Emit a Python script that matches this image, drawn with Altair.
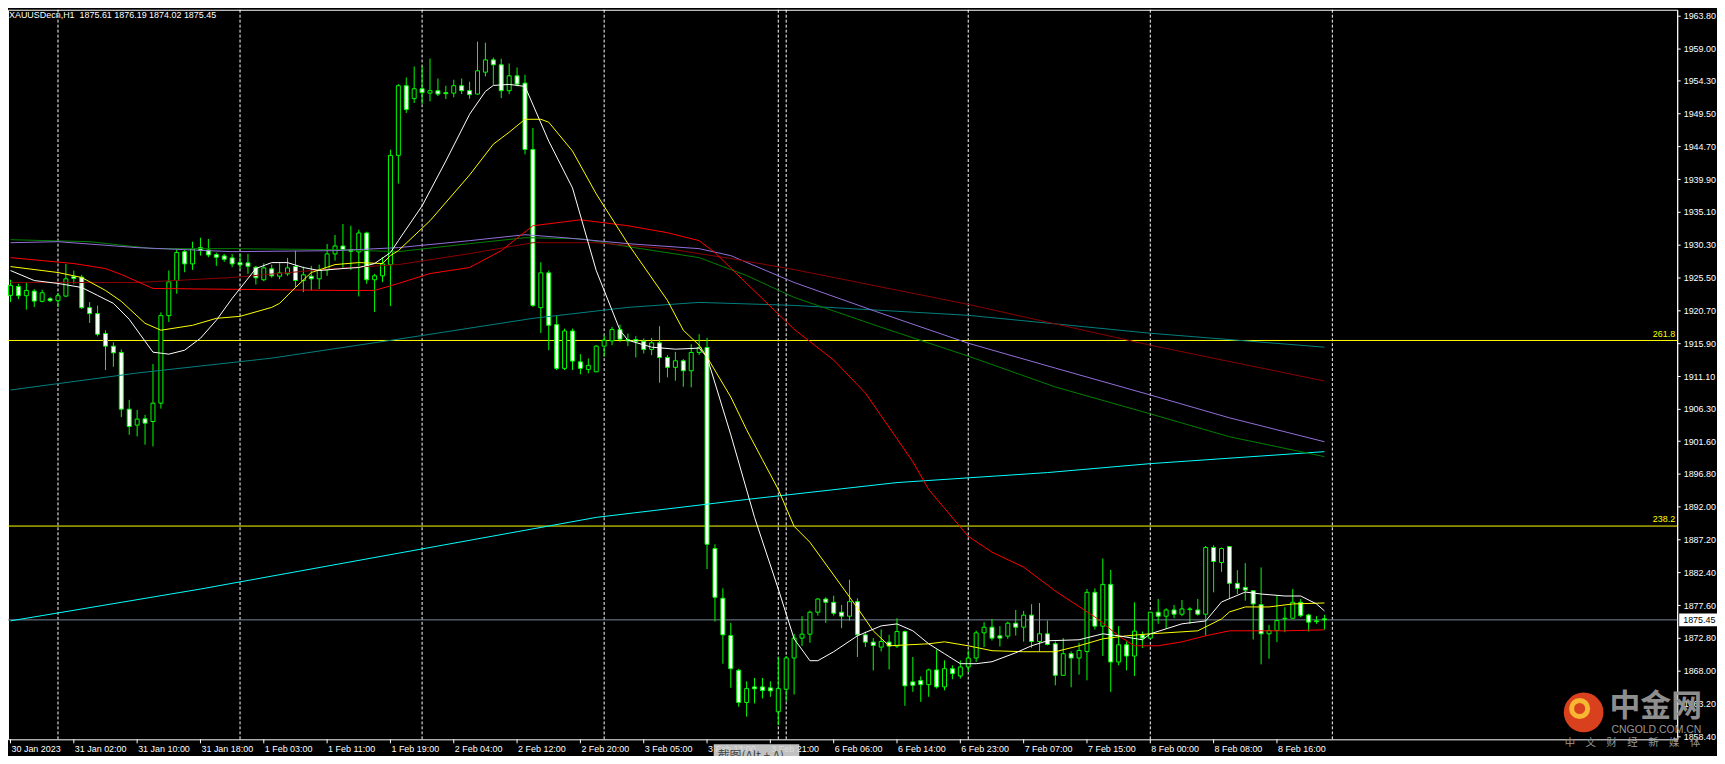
import altair as alt
import pandas as pd

# ---------------- data ----------------
opens = [1922.90,1924.21,1922.86,1923.53,1922.03,1922.42,1922.13,1922.80,1925.67,1925.56,
         1921.11,1920.24,1917.32,1915.48,1914.56,1906.26,1903.93,1904.85,1904.46,1907.14,
         1919.94,1925.08,1929.30,1927.51,1929.89,1929.55,1928.87,1928.68,1928.39,1927.70,
         1927.66,1927.02,1925.19,1926.79,1925.71,1926.06,1927.12,1925.08,1925.71,1925.33,
         1926.64,1928.97,1930.13,1929.60,1929.26,1932.03,1925.19,1925.77,1927.41,1943.38,
         1953.57,1951.68,1953.13,1952.49,1952.84,1952.55,1952.49,1953.57,1952.84,1952.35,
         1955.55,1957.35,1956.63,1952.84,1955.02,1953.95,1944.25,1921.11,1926.20,1918.63,
         1912.23,1917.70,1913.19,1912.08,1911.73,1915.48,1916.25,1917.91,1916.45,1916.45,
         1916.20,1915.00,1915.96,1913.83,1912.38,1913.34,1911.88,1914.56,1915.29,1885.88,
         1878.61,1873.16,1868.07,1863.37,1865.65,1865.65,1865.51,1862.01,1865.30,1869.87,
         1872.78,1873.36,1876.57,1878.50,1878.02,1876.57,1875.99,1878.11,1873.26,1872.20,
         1871.47,1872.20,1871.62,1873.74,1866.38,1866.57,1865.98,1868.13,1865.65,1868.31,
         1867.25,1868.56,1869.87,1873.55,1874.38,1873.12,1873.07,1874.96,1874.38,1876.14,
         1872.29,1873.41,1871.95,1867.34,1870.50,1869.87,1870.83,1879.48,1874.53,1880.64,
         1869.29,1871.81,1870.16,1873.26,1872.78,1876.57,1875.99,1876.90,1876.28,1876.95,
         1876.90,1876.28,1886.03,1883.85,1886.17,1880.79,1880.20,1879.71,1877.67,1873.41,
         1873.89,1875.59,1875.69,1878.02,1876.17,1875.30,1875.61]
highs = [1925.19,1924.60,1924.79,1923.82,1923.73,1922.65,1923.29,1927.51,1926.54,1925.91,
         1921.92,1921.40,1917.80,1916.06,1915.00,1907.62,1906.16,1905.43,1912.86,1920.43,
         1926.54,1929.64,1929.55,1930.76,1931.34,1931.15,1929.16,1928.97,1928.97,1929.01,
         1928.97,1927.22,1927.60,1927.41,1927.60,1928.39,1929.45,1927.12,1927.22,1927.41,
         1930.43,1931.73,1933.34,1933.09,1932.51,1932.22,1926.06,1928.48,1944.20,1953.80,
         1954.78,1956.38,1956.48,1957.54,1954.63,1953.57,1954.44,1954.63,1954.15,1960.02,
         1959.87,1957.69,1957.50,1956.82,1956.23,1955.17,1947.40,1927.75,1926.54,1919.99,
         1918.05,1918.05,1914.31,1913.68,1915.62,1917.08,1918.29,1918.63,1917.33,1916.93,
         1916.60,1916.69,1918.39,1914.17,1914.65,1913.58,1915.77,1917.22,1916.69,1886.51,
         1880.06,1875.01,1868.31,1866.47,1866.96,1866.96,1866.47,1870.02,1870.16,1873.41,
         1875.99,1876.80,1878.61,1878.75,1878.99,1877.63,1881.32,1878.61,1873.74,1872.78,
         1874.04,1873.26,1875.70,1873.89,1870.02,1867.19,1868.31,1871.12,1869.53,1868.80,
         1869.53,1870.98,1873.89,1875.11,1875.59,1874.53,1875.20,1876.90,1876.76,1877.74,
         1877.92,1875.35,1872.29,1872.78,1870.83,1872.10,1879.96,1880.06,1884.43,1882.77,
         1874.53,1872.29,1878.02,1873.74,1876.57,1878.50,1877.15,1877.63,1878.36,1877.30,
         1878.50,1886.26,1886.36,1886.03,1886.26,1882.72,1883.75,1879.71,1883.12,1874.72,
         1878.99,1877.30,1879.96,1878.50,1876.32,1875.99,1876.19]
lows = [1921.92,1922.36,1920.82,1921.20,1921.88,1921.92,1921.20,1922.65,1924.60,1920.91,
        1918.87,1916.93,1911.98,1912.46,1905.10,1902.52,1902.28,1901.07,1900.82,1906.35,
        1919.01,1923.15,1926.29,1926.64,1928.72,1928.48,1927.22,1927.80,1927.02,1926.73,
        1926.06,1924.50,1924.98,1925.48,1925.27,1925.77,1924.11,1923.38,1923.63,1923.82,
        1925.77,1927.99,1926.79,1926.64,1922.75,1924.60,1920.47,1924.84,1921.34,1939.25,
        1949.58,1951.04,1950.89,1951.28,1952.06,1951.62,1951.87,1952.35,1951.68,1952.26,
        1954.92,1953.71,1951.76,1952.35,1953.47,1943.53,1921.20,1917.41,1914.89,1911.98,
        1911.98,1911.98,1911.36,1911.50,1911.73,1913.92,1915.62,1916.10,1915.48,1913.83,
        1914.41,1914.17,1910.13,1910.92,1910.43,1909.55,1909.46,1914.17,1882.87,1875.20,
        1869.04,1865.51,1862.74,1861.29,1863.22,1863.95,1864.20,1860.06,1863.55,1864.53,
        1871.62,1872.10,1876.07,1875.01,1876.07,1874.24,1875.35,1870.02,1871.47,1868.06,
        1870.83,1868.21,1871.33,1862.88,1864.92,1863.46,1864.20,1865.40,1865.15,1866.76,
        1866.86,1867.83,1869.29,1871.47,1872.43,1871.56,1872.68,1873.16,1872.25,1871.37,
        1870.86,1871.71,1865.88,1867.34,1865.59,1867.44,1866.61,1874.04,1870.16,1864.92,
        1868.80,1868.06,1867.25,1871.33,1872.78,1874.87,1874.14,1875.70,1875.99,1874.87,
        1876.07,1873.16,1879.48,1882.48,1878.50,1879.23,1878.26,1872.58,1868.94,1869.77,
        1872.20,1873.65,1875.59,1875.84,1873.74,1874.87,1874.02]
closes = [1924.36,1922.86,1923.63,1922.07,1923.29,1922.13,1922.86,1925.33,1925.38,1921.11,
          1920.24,1917.22,1915.48,1914.50,1906.26,1903.73,1904.81,1904.22,1907.14,1919.94,
          1924.89,1929.16,1927.51,1929.70,1929.49,1928.82,1928.48,1928.18,1927.51,1927.37,
          1927.16,1925.48,1926.93,1925.77,1926.20,1926.93,1925.08,1925.91,1925.33,1926.64,
          1928.97,1930.13,1929.55,1929.35,1932.03,1925.19,1925.77,1927.51,1943.38,1953.57,
          1950.08,1953.13,1952.55,1952.84,1952.35,1952.41,1953.57,1952.84,1952.26,1955.75,
          1957.35,1956.63,1952.84,1955.02,1953.80,1944.25,1921.44,1926.20,1918.53,1912.23,
          1917.70,1913.29,1912.23,1912.67,1915.48,1916.35,1917.91,1916.50,1916.25,1916.16,
          1915.00,1915.96,1913.83,1912.38,1913.34,1911.88,1914.56,1915.29,1886.51,1878.75,
          1873.26,1868.31,1863.37,1865.40,1865.36,1865.11,1865.07,1865.40,1869.87,1872.78,
          1873.36,1876.57,1878.50,1878.02,1876.42,1875.99,1878.11,1873.26,1872.20,1871.71,
          1872.29,1871.62,1873.74,1865.80,1865.89,1865.98,1868.13,1865.65,1868.31,1867.59,
          1868.56,1869.87,1873.55,1874.38,1872.78,1872.78,1874.96,1874.38,1876.14,1872.29,
          1873.41,1871.85,1867.34,1870.50,1869.87,1870.98,1879.48,1874.53,1880.64,1869.29,
          1871.81,1870.16,1873.80,1872.78,1876.57,1875.99,1876.90,1876.28,1877.05,1877.05,
          1876.28,1886.03,1883.99,1885.88,1880.79,1880.06,1879.81,1877.78,1873.41,1873.89,
          1875.35,1875.69,1878.02,1876.07,1875.11,1875.20,1875.45]

x_tick_bars = [0, 8, 16, 24, 32, 40, 48, 56, 64, 72, 80, 88, 96, 104, 112, 120, 128, 136, 144, 152, 160]
x_tick_labels = ["30 Jan 2023", "31 Jan 02:00", "31 Jan 10:00", "31 Jan 18:00", "1 Feb 03:00",
                 "1 Feb 11:00", "1 Feb 19:00", "2 Feb 04:00", "2 Feb 12:00", "2 Feb 20:00",
                 "3 Feb 05:00", "3 Feb 13:00", "3 Feb 21:00", "6 Feb 06:00", "6 Feb 14:00",
                 "6 Feb 23:00", "7 Feb 07:00", "7 Feb 15:00", "8 Feb 00:00", "8 Feb 08:00",
                 "8 Feb 16:00"]
y_tick_values = [1963.80, 1959.00, 1954.30, 1949.50, 1944.70, 1939.90, 1935.10, 1930.30,
                 1925.50, 1920.70, 1915.90, 1911.10, 1906.30, 1901.60, 1896.80, 1892.00,
                 1887.20, 1882.40, 1877.60, 1872.80, 1868.00, 1863.20, 1858.40]
separator_bars = [6, 29, 52, 75, 97, 98, 121, 144, 167]
fib_levels = [1916.31, 1889.17]
fib_labels = ["261.8", "238.2"]
last_price = 1875.45
title_text = "XAUUSDecn,H1\u00a0\u00a01875.61 1876.19 1874.02 1875.45"

white_i = [0,3,6,9,11,13,15,17,18,20,22,24,26,28,31,33,35,37,39,42,44,46,48,49,52,55,58,60,61,63,
           65,68,71,74,77,78,81,84,87,88,91,94,97,99,101,102,104,107,110,112,114,116,118,120,122,
           124,127,129,131,135,138,140,143,144,148,151,153,156,158,161,163,165,166]
white_v = [1926.54,1925.08,1924.65,1924.06,1922.90,1921.74,1919.41,1916.20,1914.60,1914.31,
           1914.89,1916.64,1919.26,1922.46,1926.83,1927.70,1927.70,1926.98,1926.54,1926.83,
           1926.98,1927.56,1929.16,1930.91,1936.00,1942.55,1949.39,1952.74,1953.61,1953.76,
           1953.47,1945.46,1938.62,1926.54,1917.81,1916.35,1915.33,1915.04,1915.19,1913.88,
           1902.52,1890.44,1879.96,1872.68,1869.48,1869.48,1870.79,1873.12,1874.57,1874.86,
           1873.85,1871.95,1870.50,1869.04,1869.04,1869.33,1870.64,1871.66,1872.39,1872.54,
           1873.41,1873.12,1872.54,1873.41,1874.87,1875.30,1878.07,1879.52,1879.23,1878.94,
           1878.94,1877.78,1876.76]
yellow_i = [0,6,9,12,14,17,19,23,26,29,33,34,36,38,41,44,47,48,49,53,58,61,63,65,67,68,71,74,78,83,
            85,87,88,91,93,95,97,99,101,104,107,109,111,116,118,121,124,128,132,135,138,141,144,
            148,150,153,154,156,159,162,166]
yellow_v = [1927.12,1926.25,1925.52,1923.63,1922.03,1918.82,1917.81,1918.53,1919.55,1919.84,
            1921.15,1921.74,1924.06,1926.25,1927.41,1927.70,1927.56,1928.72,1929.45,1933.82,
            1940.51,1945.02,1946.77,1948.66,1948.66,1948.23,1944.01,1937.75,1930.47,1922.17,
            1917.81,1915.62,1913.88,1908.05,1903.25,1898.88,1894.52,1889.13,1886.80,1882.00,
            1877.19,1873.84,1871.66,1871.95,1872.24,1871.66,1870.94,1870.79,1870.79,1871.66,
            1872.68,1873.12,1873.41,1873.70,1873.85,1875.59,1876.61,1877.34,1877.34,1877.78,
            1877.92]
red_i = [0,8,12,14,18,30,41,46,49,53,58,62,66,72,78,83,87,89,93,99,104,108,114,116,121,124,128,
         132,137,140,142,145,148,151,154,161,166]
red_v = [1928.43,1927.56,1926.83,1925.96,1923.92,1923.77,1923.63,1923.63,1924.65,1926.10,
         1926.98,1929.45,1933.09,1933.96,1933.09,1932.07,1930.91,1929.16,1924.65,1917.95,
         1913.44,1908.63,1898.59,1894.52,1887.67,1885.35,1883.16,1879.67,1875.88,1873.12,
         1871.66,1871.66,1872.24,1873.12,1873.85,1873.85,1873.99]
maroon_i = [0,16,28,41,49,58,66,74,83,91,99,121,144,166]
maroon_v = [1924.79,1924.79,1925.52,1926.83,1927.41,1929.01,1930.61,1930.61,1929.74,1928.29,
            1926.68,1921.59,1915.62,1910.38]
purple_i = [0,6,16,28,41,49,58,65,70,78,87,91,99,110,121,132,144,154,166]
purple_v = [1930.61,1930.76,1929.89,1929.30,1929.45,1929.89,1930.91,1931.78,1931.34,1930.47,
            1929.74,1928.72,1924.79,1920.28,1915.91,1912.27,1908.34,1905.00,1901.50]
green_i = [0,10,18,28,41,49,58,65,72,78,87,93,99,110,121,132,144,154,166]
green_v = [1931.05,1930.76,1929.74,1929.74,1929.60,1929.30,1930.47,1931.34,1931.20,1930.03,
           1928.43,1925.81,1922.61,1918.24,1914.02,1909.51,1905.58,1902.23,1899.32]
teal_i = [0,16,33,49,66,78,87,99,121,144,166]
teal_v = [1909.07,1911.55,1913.73,1916.50,1919.55,1921.15,1921.88,1921.44,1919.99,1917.37,1915.33]
cyan_i = [0,24,49,74,93,112,131,144,166]
cyan_v = [1875.30,1879.96,1885.20,1890.44,1893.06,1895.53,1896.99,1898.30,1900.05]

# ---------------- layout ----------------
W, H = 1677, 733
FONT = "Liberation Sans"
FS = 9
CJK = "Noto Sans CJK SC"
LIME = "#00FF00"

xs = alt.Scale(domain=[0.3125, 209.9375], nice=False, zero=False)
ys = alt.Scale(domain=[1857.98, 1964.68], nice=False, zero=False)
YAX = alt.Axis(orient="right", values=y_tick_values, format=".2f", title=None, grid=False,
               labelColor="white", labelFont=FONT, labelFontSize=FS, labelPadding=3,
               tickColor="white", tickSize=3, domainColor="white", labelOverlap=False,
               labelFlush=False, labelBound=False)


def X(f):
    return alt.X(f + ":Q", scale=xs, axis=None)


def Y(f):
    return alt.Y(f + ":Q", scale=ys, axis=YAX)


n = len(opens)
candles = pd.DataFrame({"i": list(range(n)), "o": opens, "h": highs, "l": lows, "c": closes})
candles["top"] = candles[["o", "c"]].max(axis=1)
candles["bot"] = candles[["o", "c"]].min(axis=1)
candles["fillc"] = ["black" if c > o else "white" for o, c in zip(opens, closes)]

layers = []

sep = alt.Chart(pd.DataFrame({"i": separator_bars})).mark_rule(
    color="white", strokeDash=[3, 2], strokeWidth=1).encode(
    x=X("i"), y=alt.value(0), y2=alt.value(H))
layers.append(sep)

fib = pd.DataFrame({"v": fib_levels, "label": fib_labels})
layers.append(alt.Chart(fib).mark_rule(color="#FFFF00", strokeWidth=1).encode(y=Y("v")))
layers.append(alt.Chart(pd.DataFrame({"v": [last_price]})).mark_rule(
    color="#778899", strokeWidth=1).encode(y=Y("v")))

base = alt.Chart(candles)
layers.append(base.mark_rule(color=LIME, strokeWidth=1).encode(
    x=X("i"), y=Y("l"), y2=alt.Y2("h:Q")))
layers.append(base.mark_bar(size=4, stroke=LIME, strokeWidth=1, orient="vertical").encode(
    x=X("i"), y=Y("top"), y2=alt.Y2("bot:Q"),
    fill=alt.Fill("fillc:N", scale=None)))

mas = [
    (cyan_i, cyan_v, "#00FFFF"),
    (teal_i, teal_v, "#008080"),
    (green_i, green_v, "#008000"),
    (purple_i, purple_v, "#9370DB"),
    (maroon_i, maroon_v, "#8B0000"),
    (red_i, red_v, "#FF0000"),
    (yellow_i, yellow_v, "#FFFF00"),
    (white_i, white_v, "#FFFFFF"),
]
for mi, mv, col in mas:
    layers.append(alt.Chart(pd.DataFrame({"i": mi, "v": mv})).mark_line(
        color=col, strokeWidth=1).encode(x=X("i"), y=Y("v"), order="i:Q"))

layers.append(alt.Chart(fib).mark_text(
    align="right", baseline="bottom", dy=-2, color="#FFFF00", font=FONT, fontSize=FS).encode(
    x=alt.value(W - 2), y=Y("v"), text="label:N"))

pb = pd.DataFrame({"hi": [last_price + 0.95], "lo": [last_price - 0.95],
                   "v": [last_price], "t": ["%.2f" % last_price]})
layers.append(alt.Chart(pb).mark_rect(color="white").encode(
    x=alt.value(W + 2), x2=alt.value(W + 40), y=Y("hi"), y2=alt.Y2("lo:Q")))
layers.append(alt.Chart(pb).mark_text(
    align="left", baseline="middle", color="black", font=FONT, fontSize=FS).encode(
    x=alt.value(W + 6), y=Y("v"), text="t:N"))

xt = pd.DataFrame({"i": x_tick_bars, "t": x_tick_labels})
layers.append(alt.Chart(xt).mark_rule(color="white", strokeWidth=1).encode(
    x=X("i"), y=alt.value(H), y2=alt.value(H + 4)))
layers.append(alt.Chart(xt).mark_text(
    align="left", baseline="middle", dx=1, color="white", font=FONT, fontSize=FS).encode(
    x=X("i"), y=alt.value(H + 10), text="t:N"))

layers.append(alt.Chart(pd.DataFrame({"t": [title_text]})).mark_text(
    align="left", baseline="middle", color="white", font=FONT, fontSize=FS).encode(
    x=alt.value(1), y=alt.value(5), text="t:N"))

# watermark
layers.append(alt.Chart(pd.DataFrame({"a": [0]})).mark_point(
    shape="circle", filled=True, size=1590, color="#D9401D", opacity=1).encode(
    x=alt.value(1583), y=alt.value(706)))
layers.append(alt.Chart(pd.DataFrame({"a": [0]})).mark_point(
    shape="circle", filled=False, size=260, color="#F7B733", strokeWidth=5, opacity=1).encode(
    x=alt.value(1579), y=alt.value(702)))
layers.append(alt.Chart(pd.DataFrame({"t": ["中金网"]})).mark_text(
    align="left", baseline="middle", font=CJK, fontSize=31, fontWeight="bold",
    color="#8E8E8E").encode(x=alt.value(1609), y=alt.value(701), text="t:N"))
layers.append(alt.Chart(pd.DataFrame({"t": ["CNGOLD.COM.CN"]})).mark_text(
    align="left", baseline="middle", font="Liberation Sans", fontSize=10.5,
    color="#9A9A9A").encode(x=alt.value(1611), y=alt.value(724), text="t:N"))
layers.append(alt.Chart(pd.DataFrame({"t": ["中　文　财　经　新　媒　体"]})).mark_text(
    align="left", baseline="middle", font=CJK, fontSize=10.5,
    color="#9A9A9A").encode(x=alt.value(1564), y=alt.value(737), text="t:N"))

# screenshot tooltip box
layers.append(alt.Chart(pd.DataFrame({"a": [0]})).mark_rect(color="#D6D6D6", opacity=0.9).encode(
    x=alt.value(709), x2=alt.value(795), y=alt.value(738), y2=alt.value(760)))
layers.append(alt.Chart(pd.DataFrame({"t": ["截图(Alt + A)"]})).mark_text(
    align="left", baseline="middle", font=CJK, fontSize=12, color="#444444").encode(
    x=alt.value(713), y=alt.value(750), text="t:N"))

chart = alt.layer(*layers).properties(
    width=W, height=H,
    autosize=alt.AutoSizeParams(type="none"),
    padding={"left": 0, "top": 0, "right": 40, "bottom": 15},
    background="black",
).configure_view(stroke="white", strokeWidth=1, fill="black")

chart.save("out.html", embed_options={"renderer": "svg", "actions": False})
